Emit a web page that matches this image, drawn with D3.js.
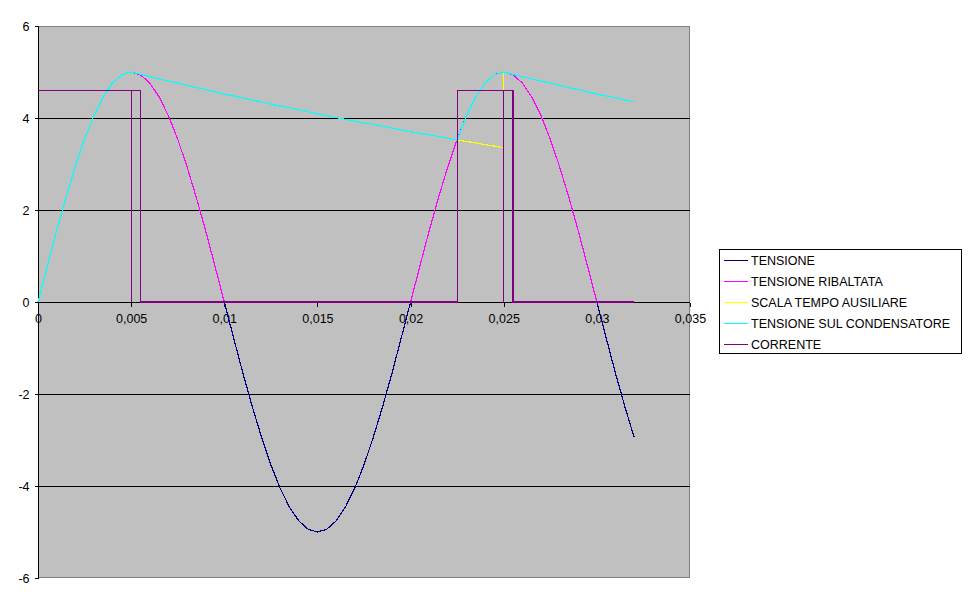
<!DOCTYPE html>
<html><head><meta charset="utf-8">
<script src="https://cdn.jsdelivr.net/npm/d3@7"></script>
<style>
body{margin:0;background:#fff;}
text{font-family:"Liberation Sans",Arial,sans-serif;font-size:12.5px;fill:#000;}
path,line{shape-rendering:crispEdges;}
</style></head>
<body><svg id="c" width="970" height="604"></svg>
<script>
// time samples (s), step 0.0005 from 0 to 0.032
const tempo = [0,0.0005,0.001,0.0015,0.002,0.0025,0.003,0.0035,0.004,0.0045,0.005,0.0055,0.006,0.0065,0.007,0.0075,0.008,0.0085,0.009,0.0095,0.01,0.0105,0.011,0.0115,0.012,0.0125,0.013,0.0135,0.014,0.0145,0.015,0.0155,0.016,0.0165,0.017,0.0175,0.018,0.0185,0.019,0.0195,0.02,0.0205,0.021,0.0215,0.022,0.0225,0.023,0.0235,0.024,0.0245,0.025,0.0255,0.026,0.0265,0.027,0.0275,0.028,0.0285,0.029,0.0295,0.03,0.0305,0.031,0.0315,0.032];
const tensione = [0,0.78,1.55,2.27,2.94,3.54,4.05,4.46,4.76,4.94,5,4.94,4.76,4.46,4.05,3.54,2.94,2.27,1.55,0.78,0,-0.78,-1.55,-2.27,-2.94,-3.54,-4.05,-4.46,-4.76,-4.94,-5,-4.94,-4.76,-4.46,-4.05,-3.54,-2.94,-2.27,-1.55,-0.78,0,0.78,1.55,2.27,2.94,3.54,4.05,4.46,4.76,4.94,5,4.94,4.76,4.46,4.05,3.54,2.94,2.27,1.55,0.78,0,-0.78,-1.55,-2.27,-2.94];
const tensioneRibaltata = [0,0.78,1.55,2.27,2.94,3.54,4.05,4.46,4.76,4.94,5,4.94,4.76,4.46,4.05,3.54,2.94,2.27,1.55,0.78,0,0,0,0,0,0,0,0,0,0,0,0,0,0,0,0,0,0,0,0,0,0.78,1.55,2.27,2.94,3.54,4.05,4.46,4.76,4.94,5,4.94,4.76,4.46,4.05,3.54,2.94,2.27,1.55,0.78,0,0,0,0,0];
const tensioneCondensatore = [0,0.78,1.55,2.27,2.94,3.54,4.05,4.46,4.76,4.94,5,4.95,4.90,4.85,4.80,4.76,4.71,4.66,4.62,4.57,4.52,4.48,4.44,4.39,4.35,4.30,4.26,4.22,4.18,4.14,4.09,4.05,4.01,3.97,3.93,3.89,3.86,3.82,3.78,3.74,3.70,3.67,3.63,3.60,3.56,3.52,4.05,4.46,4.76,4.94,5,4.95,4.90,4.85,4.80,4.76,4.71,4.66,4.62,4.57,4.52,4.48,4.44,4.39,4.35];
// auxiliary time scale (yellow)
const scalaTempo = [0.0225,0.023,0.0235,0.024,0.0245,0.025,0.025];
const scalaValori = [3.52,3.49,3.46,3.42,3.39,3.35,5];
// current (purple)
const correnteTempo = [0,0.0055,0.0055,0.0225,0.0225,0.0255,0.0255,0.032];
const correnteValori = [4.6,4.6,0,0,4.6,4.6,0,0];
const impulsiTempo = [0.005,0.025];
const impulsiValore = 4.6;
const xTicks = [0,0.005,0.01,0.015,0.02,0.025,0.03,0.035];
const yTicks = [-6,-4,-2,0,2,4,6];
const legendLabels = ["TENSIONE","TENSIONE RIBALTATA","SCALA TEMPO AUSILIARE","TENSIONE SUL CONDENSATORE","CORRENTE"];
const colors = ["#000080","#FF00FF","#FFFF00","#00FFFF","#800080"];

const svg = d3.select("#c");
const L=38,R=690,T=26,B=578;
const x = d3.scaleLinear().domain([0,0.035]).range([L,R]);
const y = d3.scaleLinear().domain([-6,6]).range([B,T]);

svg.append("rect").attr("x",L).attr("y",T).attr("width",R-L).attr("height",B-T).attr("fill","#C0C0C0");
svg.append("path").attr("d",`M${L},${T+0.5}H${R-0.5}V${B-0.5}H${L}`).attr("fill","none").attr("stroke","#808080");

// gridlines
svg.append("g").selectAll("line").data(yTicks.filter(v=>v!==6&&v!==-6&&v!==0)).join("line")
  .attr("x1",L).attr("x2",R).attr("y1",d=>Math.round(y(d))+0.5).attr("y2",d=>Math.round(y(d))+0.5)
  .attr("stroke","#000");

// y axis
const yAxis = svg.append("g").attr("transform",`translate(${L+0.5},0)`)
  .call(d3.axisLeft(y).tickValues(yTicks).tickSize(4).tickPadding(5).tickFormat(d=>String(d)));
yAxis.select(".domain").attr("d",`M0,${T}V${B}`).attr("stroke","#000");
yAxis.selectAll("text").style("font-size","12.5px");

// x axis at zero
const fmt = d=> d===0?"0":String(d).replace(".",",");
const xAxis = svg.append("g").attr("transform",`translate(0,${Math.round(y(0))+0.5})`)
  .call(d3.axisBottom(x).tickValues(xTicks).tickSize(4).tickPadding(8).tickFormat(fmt));
xAxis.select(".domain").attr("d",`M${L},0H${R}`).attr("stroke","#000");
xAxis.selectAll("text").style("font-size","12.5px");

const line = d3.line().x(d=>x(d[0])).y(d=>y(d[1]));
const zip = (a,b)=>a.map((t,i)=>[t,b[i]]);

const g = svg.append("g");
g.append("path").attr("d",line(zip(tempo,tensione))).attr("fill","none").attr("stroke",colors[0]).attr("stroke-width",1.2);
g.append("path").attr("d",line(zip(tempo,tensioneRibaltata))).attr("fill","none").attr("stroke",colors[1]).attr("stroke-width",1.2);
g.append("path").attr("d",line(zip(scalaTempo,scalaValori))).attr("fill","none").attr("stroke",colors[2]).attr("stroke-width",1.2);
g.append("path").attr("d",line(zip(tempo,tensioneCondensatore))).attr("fill","none").attr("stroke",colors[3]).attr("stroke-width",1.2);
g.append("path").attr("d",line(zip(correnteTempo,correnteValori))).attr("fill","none").attr("stroke",colors[4]).attr("stroke-width",1.2);
g.selectAll("line.imp").data(impulsiTempo).join("line").attr("class","imp")
  .attr("x1",d=>x(d)).attr("x2",d=>x(d)).attr("y1",y(0)).attr("y2",y(impulsiValore))
  .attr("stroke",colors[4]).attr("stroke-width",1.2);

// legend
const lg = svg.append("g");
lg.append("rect").attr("x",719.5).attr("y",249.5).attr("width",242).attr("height",104).attr("fill","#fff").attr("stroke","#000");
legendLabels.forEach((lab,i)=>{
  const yy = 260.5 + i*21;
  lg.append("line").attr("x1",724).attr("x2",748).attr("y1",yy).attr("y2",yy).attr("stroke",colors[i]).attr("stroke-width",1);
  lg.append("text").attr("x",751).attr("y",yy).attr("dy","0.35em").text(lab);
});
</script></body></html>
